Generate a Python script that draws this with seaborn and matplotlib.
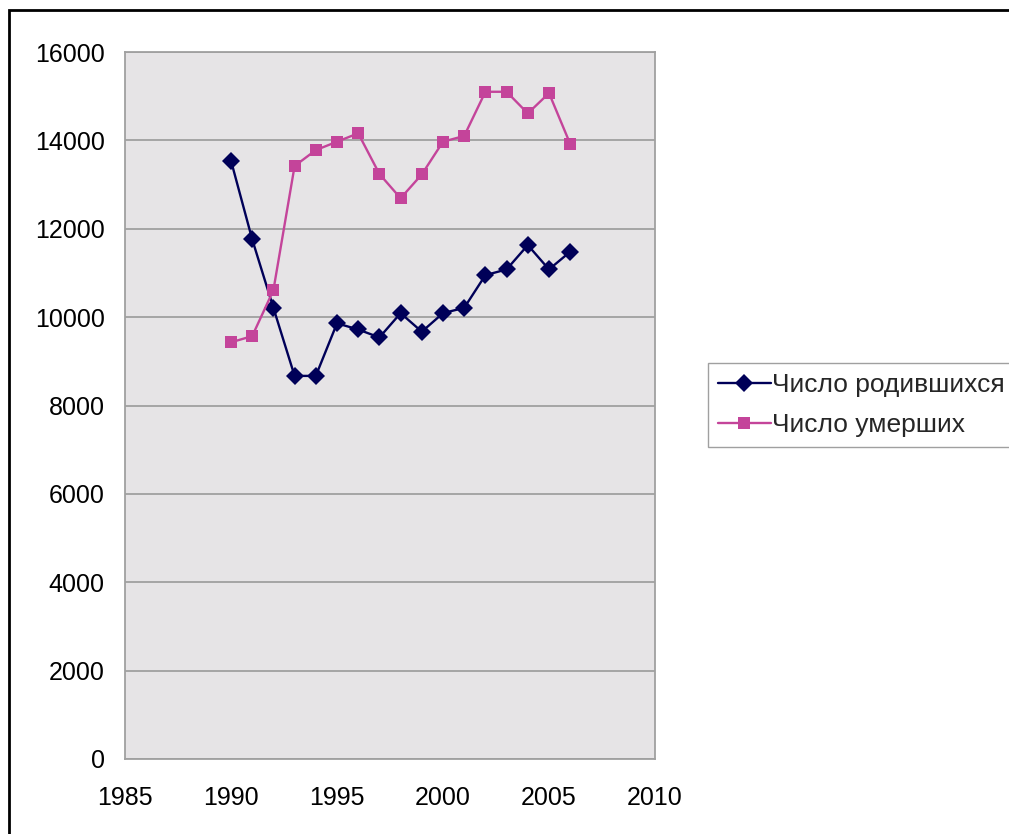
import pandas as pd
import seaborn as sns
import matplotlib.pyplot as plt
from matplotlib.patches import Rectangle
from matplotlib.lines import Line2D

# Data
years = list(range(1990, 2007))
births = [13540, 11760, 10210, 8670, 8670, 9860, 9720, 9540, 10090,
          9670, 10090, 10210, 10950, 11080, 11630, 11080, 11480]
deaths = [9430, 9570, 10610, 13420, 13780, 13970, 14160, 13240, 12690,
          13230, 13970, 14100, 15100, 15100, 14610, 15070, 13920]
series_names = ['Число родившихся', 'Число умерших']

df = pd.DataFrame({'year': years, series_names[0]: births, series_names[1]: deaths})
long = df.melt(id_vars='year', var_name='series', value_name='value')

sns.set_style('white')
plt.rcParams['font.family'] = ['Liberation Sans', 'DejaVu Sans']

fig = plt.figure(figsize=(10.09, 8.34), dpi=100)
ax = fig.add_axes([125 / 1009, 75 / 834, 530 / 1009, 707 / 834])
ax.set_facecolor('#e6e4e6')

palette = {series_names[0]: '#000058', series_names[1]: '#c4449a'}
markers = {series_names[0]: 'D', series_names[1]: 's'}
sns.lineplot(data=long, x='year', y='value', hue='series', style='series',
             palette=palette, markers=markers, dashes=False, markersize=9,
             markeredgewidth=0, linewidth=1.7, ax=ax, legend=False)

ax.set_xlim(1985, 2010)
ax.set_ylim(0, 16000)
ax.set_xticks(range(1985, 2011, 5))
ax.set_yticks(range(0, 16001, 2000))
ax.set_xlabel('')
ax.set_ylabel('')
ax.grid(axis='y', color='#a0a0a0', linewidth=1.3)
ax.set_axisbelow(True)
for s in ax.spines.values():
    s.set_color('#a0a0a0')
    s.set_linewidth(1.3)
ax.tick_params(axis='both', direction='out', length=5.5, width=1.2, color='#a0a0a0',
               labelsize=18, labelcolor='black')
ax.tick_params(axis='y', pad=9)
ax.tick_params(axis='x', pad=14)

# legend
handles = [Line2D([], [], color=palette[n], marker=markers[n], markersize=9,
                  markeredgewidth=0, linewidth=1.7) for n in series_names]
fig.legend(handles, series_names, loc='upper left', bbox_to_anchor=(708 / 1009, 1 - 363 / 834),
           fontsize=19, frameon=True, fancybox=False, edgecolor='#a0a0a0', framealpha=1,
           handlelength=2.0, handletextpad=0.05, borderpad=0.38, labelspacing=0.6,
           borderaxespad=0)

# outer chart frame
fig.patches.append(Rectangle((9 / 1009, -0.1), 1.2, 1.1 - 10 / 834, transform=fig.transFigure,
                             fill=False, edgecolor='black', linewidth=2))

fig.savefig('out.png', dpi=100)
